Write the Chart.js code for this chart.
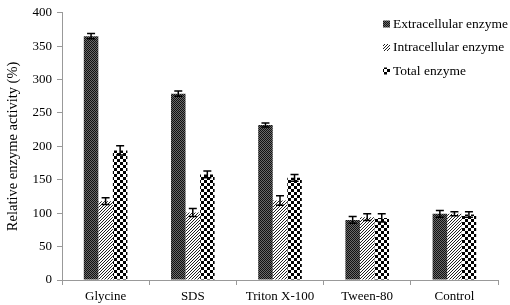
<!DOCTYPE html>
<html><head><meta charset="utf-8">
<script src="https://cdn.jsdelivr.net/npm/chart.js@4/dist/chart.umd.min.js"></script>
<style>html,body{margin:0;padding:0;background:#fff}#wrap{width:510px;height:305px}</style>
</head><body><div id="wrap"><canvas id="c" width="510" height="305"></canvas></div>
<script>
const categories = ["Glycine", "SDS", "Triton X-100", "Tween-80", "Control"];
const seriesNames = ["Extracellular enzyme", "Intracellular enzyme", "Total enzyme"];
const extracellular = [365, 279, 232, 90, 99];
const intracellular = [118, 101, 119, 94, 99];
const totalEnzyme = [194, 158, 153, 93, 98];
const extracellularErr = [4, 4, 3, 5, 5];
const intracellularErr = [5, 6, 7, 5, 3];
const totalErr = [7, 5, 5, 6, 4];
const yTicks = [0, 50, 100, 150, 200, 250, 300, 350, 400];

function makePattern(kind) {
  const t = document.createElement('canvas');
  const ctx = t.getContext('2d');
  if (kind === 0) {
    t.width = 2; t.height = 2;
    ctx.fillStyle = '#6a6a6a'; ctx.fillRect(0,0,2,2);
    ctx.fillStyle = '#111'; ctx.fillRect(0,0,1,1); ctx.fillRect(1,1,1,1);
  } else if (kind === 1) {
    t.width = 3; t.height = 3;
    ctx.fillStyle = '#fff'; ctx.fillRect(0,0,3,3);
    ctx.fillStyle = '#222';
    ctx.fillRect(2,0,1,1); ctx.fillRect(1,1,1,1); ctx.fillRect(0,2,1,1);
  } else {
    t.width = 6; t.height = 6;
    ctx.fillStyle = '#fff'; ctx.fillRect(0,0,6,6);
    ctx.fillStyle = '#000'; ctx.fillRect(0,0,3,3); ctx.fillRect(3,3,3,3);
  }
  return document.getElementById('c').getContext('2d').createPattern(t, 'repeat');
}
const patterns = [makePattern(0), makePattern(1), makePattern(2)];
const values = [extracellular, intracellular, totalEnzyme];
const errs = [extracellularErr, intracellularErr, totalErr];

const errorBars = {
  id: 'errorBars',
  afterDatasetsDraw(chart) {
    const ctx = chart.ctx, y = chart.scales.y;
    ctx.save();
    ctx.strokeStyle = '#000'; ctx.lineWidth = 1.5;
    chart.data.datasets.forEach((ds, i) => {
      const meta = chart.getDatasetMeta(i);
      meta.data.forEach((el, j) => {
        const v = ds.data[j], e = errs[i][j];
        const yt = y.getPixelForValue(v + e), yb = y.getPixelForValue(v - e);
        const x = el.x;
        ctx.beginPath();
        ctx.moveTo(x, yt); ctx.lineTo(x, yb);
        ctx.moveTo(x - 4, yt); ctx.lineTo(x + 4, yt);
        ctx.moveTo(x - 4, yb); ctx.lineTo(x + 4, yb);
        ctx.stroke();
      });
    });
    ctx.restore();
  }
};

const customLegend = {
  id: 'customLegend',
  afterDraw(chart) {
    const ctx = chart.ctx;
    ctx.save();
    ctx.font = '13.5px "Liberation Serif", "Times New Roman", serif';
    ctx.textBaseline = 'middle';
    ctx.fillStyle = '#000';
    chart.data.datasets.forEach((ds, i) => {
      const yc = 24 + i * 23.5;
      ctx.fillStyle = ds.backgroundColor;
      ctx.fillRect(383, yc - 3.5, 7, 7);
      ctx.fillStyle = '#000';
      ctx.fillText(ds.label, 393, yc);
    });
    ctx.restore();
  }
};

new Chart(document.getElementById('c'), {
  type: 'bar',
  data: {
    labels: categories,
    datasets: seriesNames.map((n, i) => ({
      label: n,
      data: values[i],
      backgroundColor: patterns[i],
      borderWidth: 0,
      categoryPercentage: 0.5,
      barPercentage: 1.0
    }))
  },
  options: {
    responsive: false,
    animation: false,
    layout: { padding: { top: 8, right: 12, left: 0, bottom: 0 } },
    plugins: { legend: { display: false }, tooltip: { enabled: false } },
    scales: {
      x: {
        grid: { drawOnChartArea: false, color: '#999', tickLength: 5, offset: true },
        border: { color: '#999' },
        ticks: { color: '#000', font: { family: '"Liberation Serif", serif', size: 13 }, padding: 4, maxRotation: 0 },
        afterFit(s) { s.height = 25; }
      },
      y: {
        min: 0, max: 400,
        afterBuildTicks(s) { s.ticks = yTicks.map(v => ({ value: v })); },
        grid: { drawOnChartArea: false, color: '#999', tickLength: 5 },
        border: { color: '#999' },
        ticks: { color: '#000', font: { family: '"Liberation Serif", serif', size: 13 }, padding: 5 },
        title: { display: true, text: 'Relative enzyme activity (%)', color: '#000', font: { family: '"Liberation Serif", serif', size: 14.5 }, padding: { top: 4, bottom: 0 } },
        afterFit(s) { s.width = 62; }
      }
    }
  },
  plugins: [errorBars, customLegend]
});
</script></body></html>
